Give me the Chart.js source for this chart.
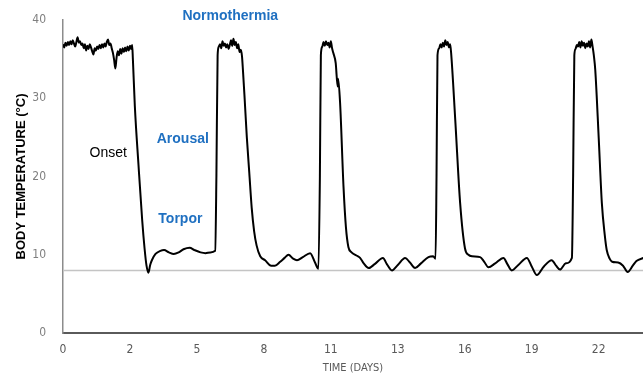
<!DOCTYPE html>
<html>
<head>
<meta charset="utf-8">
<script src="https://cdn.jsdelivr.net/npm/chart.js@4.4.1/dist/chart.umd.min.js"></script>
<style>
  html, body { margin: 0; padding: 0; background: #fff; }
  canvas { display: block; }
</style>
</head>
<body>
<canvas id="chart" width="643" height="378"></canvas>
<script>
// time in days, body temperature in °C
const days = [
  0.00, 0.05, 0.10, 0.15, 0.20, 0.25, 0.30, 0.35, 0.40, 0.45, 0.50, 0.55, 0.60, 0.65, 0.70, 0.75,
  0.80, 0.85, 0.90, 0.95, 1.00, 1.05, 1.10, 1.15, 1.20, 1.25, 1.30, 1.35, 1.40, 1.45, 1.50, 1.55,
  1.60, 1.65, 1.70, 1.75, 1.80, 1.85, 1.90, 1.95, 2.00, 2.05, 2.10, 2.15, 2.20, 2.25, 2.30, 2.35,
  2.40, 2.45, 2.50, 2.55, 2.60, 2.65, 2.70, 2.75, 2.80, 2.84,
  2.87, 2.95, 3.10, 3.25, 3.35, 3.43, 3.51, 3.58, 3.65, 3.80, 4.00, 4.15, 4.35, 4.55, 4.75, 4.95,
  5.20, 5.40, 5.65, 5.85, 6.05, 6.25, 6.30, 6.35, 6.40,
  6.45, 6.50, 6.55, 6.60, 6.65, 6.70, 6.75, 6.80, 6.85, 6.90, 6.95, 7.00, 7.05, 7.10, 7.15, 7.20,
  7.25, 7.30, 7.35, 7.39,
  7.45, 7.55, 7.65, 7.75, 7.85, 7.95, 8.10, 8.30, 8.55, 8.70, 8.92, 9.10, 9.26, 9.45, 9.61, 9.85,
  10.15, 10.35, 10.49, 10.55, 10.59,
  10.65, 10.70, 10.75, 10.80, 10.85, 10.90, 10.95, 11.00, 11.05, 11.10, 11.20, 11.28, 11.30,
  11.38, 11.52, 11.62, 11.72, 11.85, 12.05, 12.20, 12.35, 12.55, 12.80, 13.14, 13.30, 13.51, 13.75,
  14.05, 14.25, 14.46, 14.70, 15.01, 15.20, 15.30, 15.34, 15.38,
  15.45, 15.50, 15.55, 15.60, 15.65, 15.70, 15.75, 15.80, 15.85, 15.90, 15.94,
  16.11, 16.31, 16.51, 16.65, 16.80, 17.13, 17.30, 17.47, 17.75, 18.09, 18.25, 18.43, 18.70, 19.05,
  19.25, 19.46, 19.75, 20.07, 20.25, 20.41, 20.65, 20.90, 20.95, 21.00,
  21.05, 21.10, 21.15, 21.20, 21.25, 21.30, 21.35, 21.40, 21.45, 21.50, 21.55, 21.60, 21.65, 21.70,
  21.75, 21.80, 21.86,
  22.00, 22.13, 22.25, 22.33, 22.45, 22.55, 22.80, 23.00, 23.19, 23.40, 23.55, 23.85
];
const temps = [
  36.9, 36.5, 37.1, 36.7, 37.2, 36.8, 37.3, 36.9, 37.4, 37.0, 36.6, 37.2, 37.8, 37.1, 37.3, 36.8,
  37.0, 36.4, 36.9, 36.1, 36.7, 36.3, 36.9, 36.5, 36.0, 35.6, 36.4, 36.1, 36.6, 36.3, 36.8, 36.4,
  36.9, 36.5, 37.0, 36.6, 37.2, 37.5, 36.8, 37.0, 36.4, 35.8, 34.9, 33.8, 35.2, 36.0, 35.5, 36.3,
  35.7, 36.4, 35.9, 36.5, 36.0, 36.6, 36.1, 36.7, 36.3, 36.8,
  35.0, 29.0, 21.5, 14.5, 10.8, 8.6, 7.7, 8.7, 9.3, 10.1, 10.5, 10.6, 10.3, 10.1, 10.3, 10.7,
  10.9, 10.6, 10.3, 10.2, 10.3, 10.5, 20.0, 35.5, 36.6,
  36.9, 36.4, 37.3, 36.7, 37.0, 36.5, 36.9, 36.3, 36.8, 37.4, 36.7, 37.6, 36.8, 37.2, 36.4, 36.9,
  35.9, 36.2, 35.4, 33.6,
  30.5, 25.0, 20.5, 16.0, 13.0, 11.2, 9.8, 9.3, 8.6, 8.6, 9.1, 9.6, 10.0, 9.5, 9.3, 9.7,
  10.2, 9.0, 8.2, 20.0, 35.5,
  36.6, 37.2, 36.7, 37.3, 36.8, 37.1, 36.5, 37.3, 36.4, 35.8, 34.5, 31.5, 32.5,
  29.4, 18.7, 13.5, 11.0, 10.3, 9.9, 9.6, 8.9, 8.3, 8.8, 9.6, 8.8, 8.0, 8.7,
  9.6, 9.0, 8.3, 8.9, 9.7, 9.8, 9.5, 20.0, 35.5,
  36.4, 36.9, 36.5, 37.1, 36.6, 37.4, 36.8, 37.2, 36.5, 36.9, 35.8,
  27.2, 16.6, 10.8, 10.0, 9.8, 9.7, 9.1, 8.4, 8.9, 9.6, 8.8, 8.0, 8.7, 9.6,
  8.5, 7.4, 8.5, 9.3, 8.6, 8.1, 8.9, 9.6, 20.0, 35.5,
  36.3, 36.8, 36.6, 37.2, 36.5, 37.3, 36.7, 37.1, 36.4, 37.0, 36.6, 37.3, 36.5, 37.5,
  36.6, 35.5, 33.6,
  25.0, 16.6, 12.5, 10.6, 9.5, 9.1, 9.0, 8.6, 7.8, 8.6, 9.2, 9.6
];

const torporLine = 8;            // reference level, °C
const xMax = 23.82;              // last visible day at the right edge
const xTickStep = 2.75;
const xTickLabels = ['0', '2', '5', '8', '11', '13', '16', '19', '22'];
const yTicks = [0, 10, 20, 30, 40];

// phase labels, anchored in data units (day, °C)
const notes = [
  { text: 'Normothermia', x: 6.87, y: 40.5, color: '#1f70c1', bold: true },
  { text: 'Arousal',      x: 4.92, y: 24.8, color: '#1f70c1', bold: true },
  { text: 'Torpor',       x: 4.82, y: 14.6, color: '#1f70c1', bold: true },
  { text: 'Onset',        x: 1.86, y: 23.0, color: '#000000', bold: false }
];

const notesPlugin = {
  id: 'phaseNotes',
  afterDatasetsDraw(chart) {
    const { ctx, scales: { x, y } } = chart;
    ctx.save();
    ctx.textAlign = 'center';
    ctx.textBaseline = 'middle';
    notes.forEach(n => {
      ctx.font = (n.bold ? 'bold ' : '') + '14px "Liberation Sans", Arial, sans-serif';
      ctx.fillStyle = n.color;
      ctx.fillText(n.text, x.getPixelForValue(n.x), y.getPixelForValue(n.y));
    });
    ctx.restore();
  }
};

const tickFont = { family: '"Liberation Sans Narrow", "DejaVu Sans Condensed", sans-serif', size: 12 };

new Chart(document.getElementById('chart'), {
  type: 'line',
  data: {
    datasets: [
      {
        label: 'Body temperature',
        data: days.map((d, i) => ({ x: d, y: temps[i] })),
        borderColor: '#000',
        borderWidth: 2,
        pointRadius: 0,
        cubicInterpolationMode: 'monotone',
        order: 1
      },
      {
        label: 'Torpor level',
        data: [{ x: 0, y: torporLine }, { x: xMax, y: torporLine }],
        borderColor: '#c4c4c4',
        borderWidth: 1.5,
        pointRadius: 0,
        order: 2
      }
    ]
  },
  options: {
    responsive: false,
    animation: false,
    layout: { padding: { left: 6, top: 20, right: 0, bottom: 0 } },
    plugins: { legend: { display: false }, tooltip: { enabled: false } },
    scales: {
      x: {
        type: 'linear',
        min: 0,
        max: xMax,
        grid: { display: false },
        border: { display: true, color: '#5a5a5a', width: 2 },
        afterBuildTicks: scale => {
          scale.ticks = xTickLabels.map((_, i) => ({ value: i * xTickStep }));
        },
        afterFit: scale => { scale.height = 45; },
        ticks: {
          color: '#595959',
          font: tickFont,
          padding: 2,
          maxRotation: 0,
          autoSkip: false,
          callback: (v, i) => xTickLabels[i]
        },
        title: {
          display: true,
          text: 'TIME (DAYS)',
          color: '#595959',
          font: { family: tickFont.family, size: 11 },
          padding: { top: 2, bottom: 3 }
        }
      },
      y: {
        min: 0,
        max: 40,
        grid: { display: false },
        border: { display: true, color: '#8c8c8c', width: 1.5 },
        afterBuildTicks: scale => {
          scale.ticks = yTicks.map(v => ({ value: v }));
        },
        afterFit: scale => { scale.width = 57; },
        ticks: { color: '#7f7f7f', font: tickFont, padding: 9 },
        title: {
          display: true,
          text: 'BODY TEMPERATURE (°C)',
          color: '#000',
          font: { family: '"Liberation Sans", Arial, sans-serif', size: 13, weight: 'bold' },
          padding: { top: 8, bottom: 0 }
        }
      }
    }
  },
  plugins: [notesPlugin]
});
</script>
</body>
</html>
